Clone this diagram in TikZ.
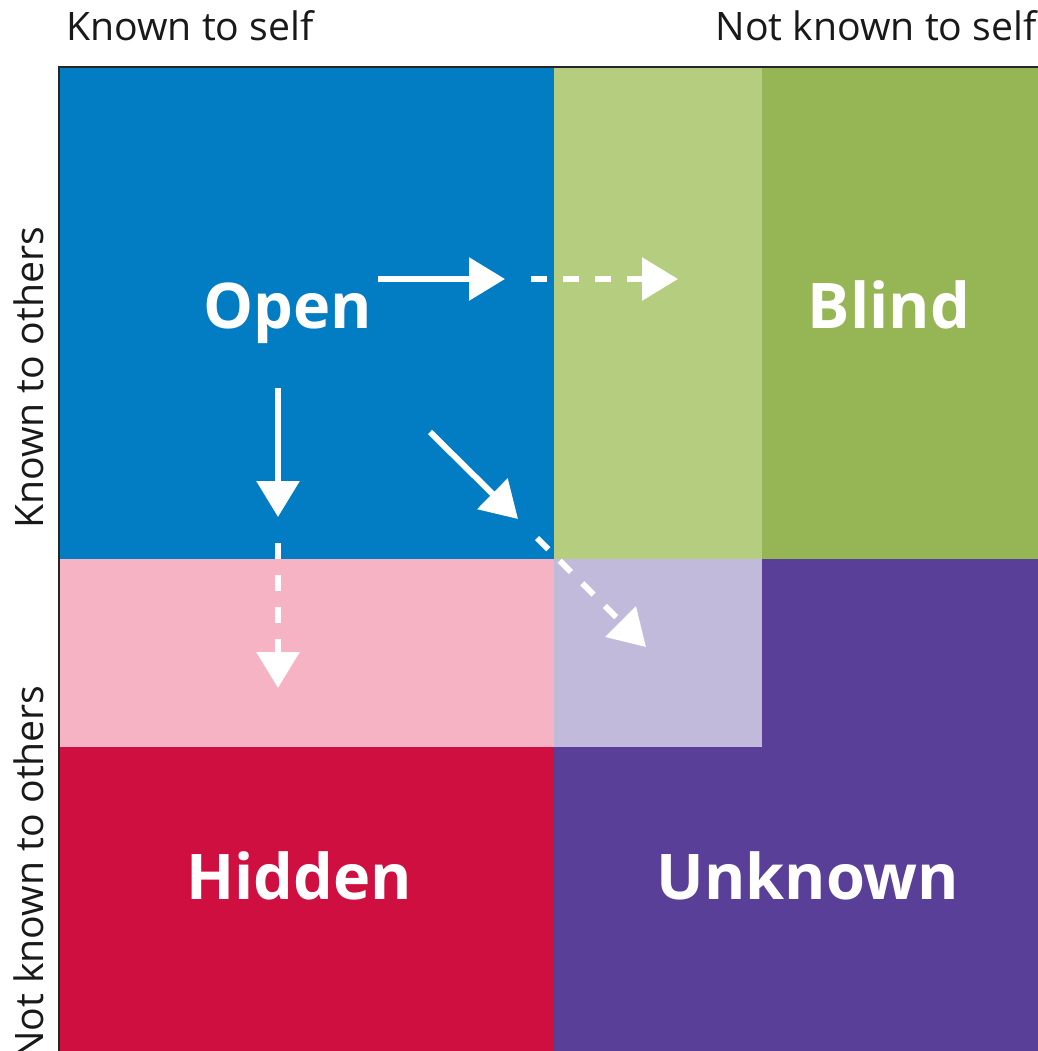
\documentclass[tikz,border=0pt]{standalone}
\usepackage{fontspec}
\setmainfont{Open Sans}
\usetikzlibrary{arrows.meta}

\definecolor{OpenBlue}{RGB}{2,124,194}
\definecolor{BlindLight}{RGB}{180,205,126}
\definecolor{BlindGreen}{RGB}{150,182,85}
\definecolor{HiddenPink}{RGB}{245,179,196}
\definecolor{HiddenRed}{RGB}{208,15,65}
\definecolor{UnknownLight}{RGB}{194,186,219}
\definecolor{UnknownPurple}{RGB}{90,63,153}

\tikzset{
AxisTitle/.style={inner sep=0pt, text=black!90, font=\fontsize{19.6pt}{23pt}\selectfont},
PaneTitle/.style={inner sep=0pt, text=white, font=\fontsize{31.5pt}{36pt}\selectfont\bfseries, anchor=base},
WindowLine/.style={draw=white, line width=3pt, arrows={-Triangle[length=18pt, width=21pt]}},
WindowDash/.style={WindowLine, dash pattern=on 8pt off 8pt},
}

\begin{document}
\begin{tikzpicture}[x=0.5pt, y=-0.5pt]
	\useasboundingbox (0,0) rectangle (1038,1051);

	% panes
	\fill[OpenBlue]      (60,67)   rectangle (554,559);
	\fill[BlindLight]    (554,67)  rectangle (762,559);
	\fill[BlindGreen]    (762,67)  rectangle (1038,559);
	\fill[HiddenPink]    (60,559)  rectangle (554,747);
	\fill[HiddenRed]     (60,747)  rectangle (554,1051);
	\fill[UnknownPurple] (554,559) rectangle (1038,1051);
	\fill[UnknownLight]  (554,559) rectangle (762,747);
	\draw[black!85, line width=1pt] (59,1051) -- (59,67) -- (1038,67);

	% axis titles
	\node[AxisTitle, anchor=base west] (KnownSelf) at (66,40) {Known to self};
	\node[AxisTitle, anchor=base east] (NotKnownSelf) at (1037,40) {Not known to self};
	\node[AxisTitle, anchor=base, rotate=90] (KnownOthers) at (43,378) {Known to others};
	\node[AxisTitle, anchor=base east, rotate=90] (NotKnownOthers) at (43,685) {Not known to others};

	% pane titles
	\node[PaneTitle] (Open)    at (288,328) {Open};
	\node[PaneTitle] (Blind)   at (889,328) {Blind};
	\node[PaneTitle] (Hidden)  at (299,899) {Hidden};
	\node[PaneTitle] (Unknown) at (808,899) {Unknown};

	% arrows
	\coordinate (r1) at (378,279); \coordinate (r2) at (505,279);
	\coordinate (r3) at (531,279); \coordinate (r4) at (678,279);
	\coordinate (d1) at (278,388); \coordinate (d2) at (278,517);
	\coordinate (d3) at (278,543); \coordinate (d4) at (278,688);
	\coordinate (g1) at (430,432); \coordinate (g2) at (518,519);
	\coordinate (g3) at (537,538); \coordinate (g4) at (646,647);
	\foreach \a/\b in {r1/r2,d1/d2,g1/g2}
		\draw[WindowLine] (\a) -- (\b);
	\foreach \a/\b in {r3/r4,d3/d4,g3/g4}
		\draw[WindowDash] (\a) -- (\b);
\end{tikzpicture}
\end{document}
